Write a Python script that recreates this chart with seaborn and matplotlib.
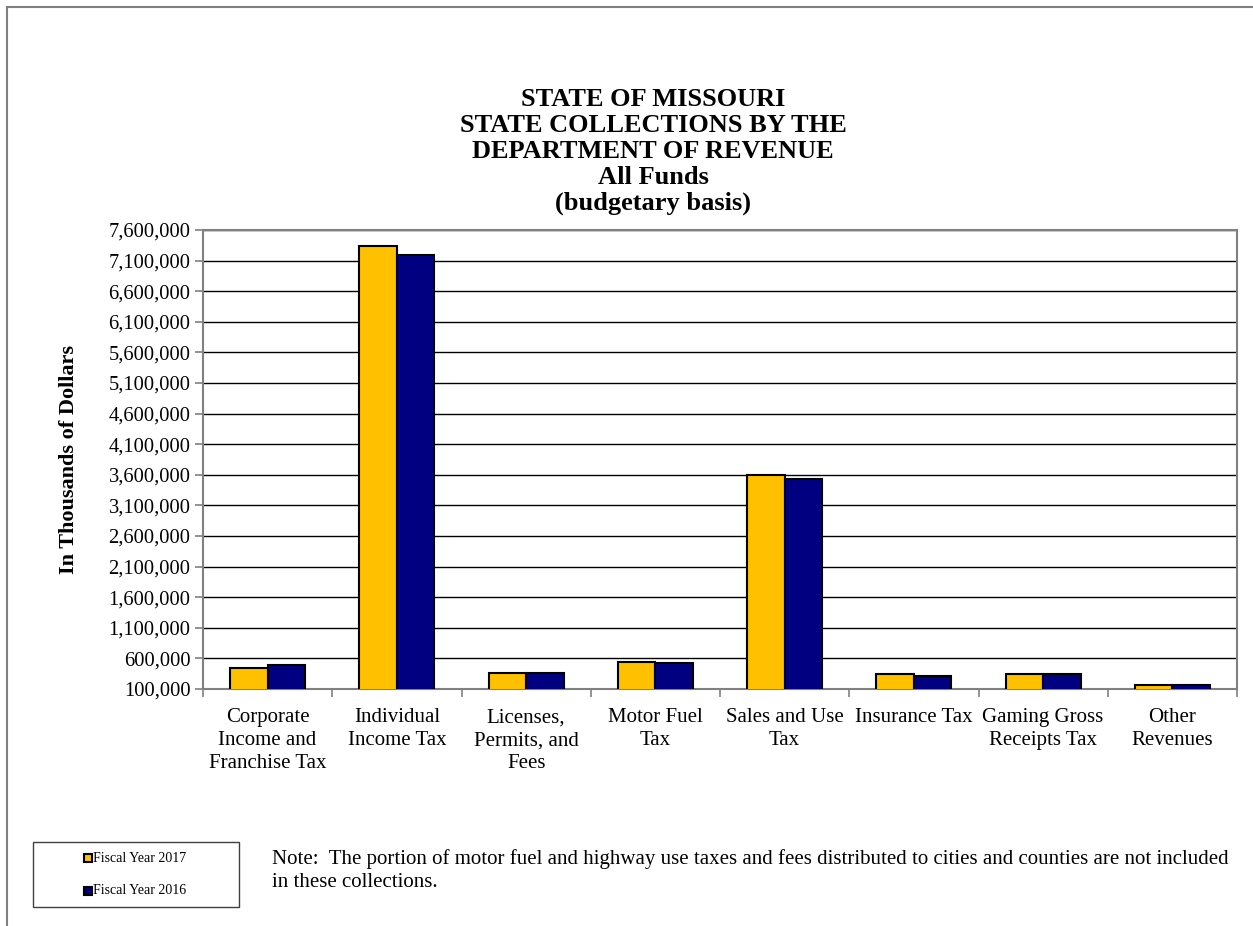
import numpy as np
import pandas as pd
import matplotlib
matplotlib.use("Agg")
import matplotlib.pyplot as plt
import seaborn as sns
from matplotlib.patches import Rectangle
from matplotlib.lines import Line2D
from matplotlib.ticker import FuncFormatter

# Data (thousands of dollars)
categories = [
    "Corporate\nIncome and\nFranchise Tax",
    "Individual\nIncome Tax",
    "Licenses,\nPermits, and\nFees",
    "Motor Fuel\nTax",
    "Sales and Use\nTax",
    "Insurance Tax",
    "Gaming Gross\nReceipts Tax",
    "Other\nRevenues",
]
fy2017 = [443000, 7340000, 358000, 540000, 3600000, 345000, 340000, 165000]
fy2016 = [492000, 7190000, 355000, 525000, 3530000, 312000, 342000, 168000]
series_names = ["Fiscal Year 2017", "Fiscal Year 2016"]
colors = ["#FFC000", "#000080"]
title_lines = ["STATE OF MISSOURI", "STATE COLLECTIONS BY THE",
               "DEPARTMENT OF REVENUE", "All Funds", "(budgetary basis)"]

df = pd.DataFrame({
    "category": categories * 2,
    "value": fy2017 + fy2016,
    "series": [series_names[0]] * len(categories) + [series_names[1]] * len(categories),
})

sns.set_style("white")
plt.rcParams["font.family"] = ["Liberation Serif", "DejaVu Serif"]
plt.rcParams.update({"text.color": "black", "axes.labelcolor": "black",
                     "xtick.color": "black", "ytick.color": "black"})

W, H = 1253, 926
fig = plt.figure(figsize=(W / 100, H / 100), dpi=100)
ax = fig.add_axes([203 / W, 1 - 689 / H, (1237 - 203) / W, (689 - 230) / H])

sns.barplot(data=df, x="category", y="value", hue="series", palette=colors,
            saturation=1, width=0.58, gap=0, edgecolor="black", linewidth=1.5,
            legend=False, ax=ax, zorder=3)

ax.set_ylim(100000, 7600000)
ax.set_xlim(-0.5, len(categories) - 0.5)
ax.set_yticks(np.arange(100000, 7600001, 500000))
ax.yaxis.set_major_formatter(FuncFormatter(lambda v, p: f"{int(v):,}"))
ax.yaxis.grid(True, color="black", linewidth=1.0, zorder=0)
ax.set_axisbelow(True)

for s in ["left", "bottom", "top", "right"]:
    ax.spines[s].set_color("#808080")
    ax.spines[s].set_linewidth(1.5)

ax.tick_params(axis="y", which="major", length=6, width=1.2, color="#808080",
               labelcolor="black", labelsize=14.8, pad=3, left=True)
ax.set_xticks(range(len(categories)))
ax.set_xticklabels(categories, fontsize=15, linespacing=1.27, va="top")
ax.tick_params(axis="x", which="major", length=0, pad=14)
ax.set_xticks(np.arange(-0.5, len(categories), 1), minor=True)
ax.tick_params(axis="x", which="minor", length=6, width=1.2, color="#808080", bottom=True)

ax.set_xlabel("")
ax.set_ylabel("In Thousands of Dollars", fontsize=16, fontweight="bold")
ax.yaxis.set_label_coords((79 - 203) / 1034, 0.5)

# title, one line at a time
for i, line in enumerate(title_lines):
    fig.text(653 / W, 1 - (99 + 26 * i) / H, line, ha="center", va="center",
             fontsize=19, fontweight="bold")

# outer border (top and left edges visible)
fig.add_artist(Line2D([7 / W, 1], [1 - 7 / H, 1 - 7 / H], color="#808080", lw=1.5))
fig.add_artist(Line2D([7 / W, 7 / W], [0, 1 - 7 / H], color="#808080", lw=1.5))

# legend box
fig.add_artist(Rectangle((33 / W, 1 - 907 / H), 206 / W, 65 / H,
                         transform=fig.transFigure, fill=False, edgecolor="#404040", lw=1))
for i, (name, c) in enumerate(zip(series_names, colors)):
    y = 1 - (858 + i * 33) / H
    fig.add_artist(Rectangle((84 / W, y - 4 / H), 8 / W, 8 / H,
                             transform=fig.transFigure, facecolor=c, edgecolor="black", lw=1.5))
    fig.text(93 / W, y, name, ha="left", va="center", fontsize=10)

fig.text(272 / W, 1 - 866 / H,
         "Note:  The portion of motor fuel and highway use taxes and fees distributed to cities and counties are not included\nin these collections.",
         ha="left", va="center_baseline", fontsize=15, linespacing=1.3)

fig.savefig("out.png", dpi=100)
